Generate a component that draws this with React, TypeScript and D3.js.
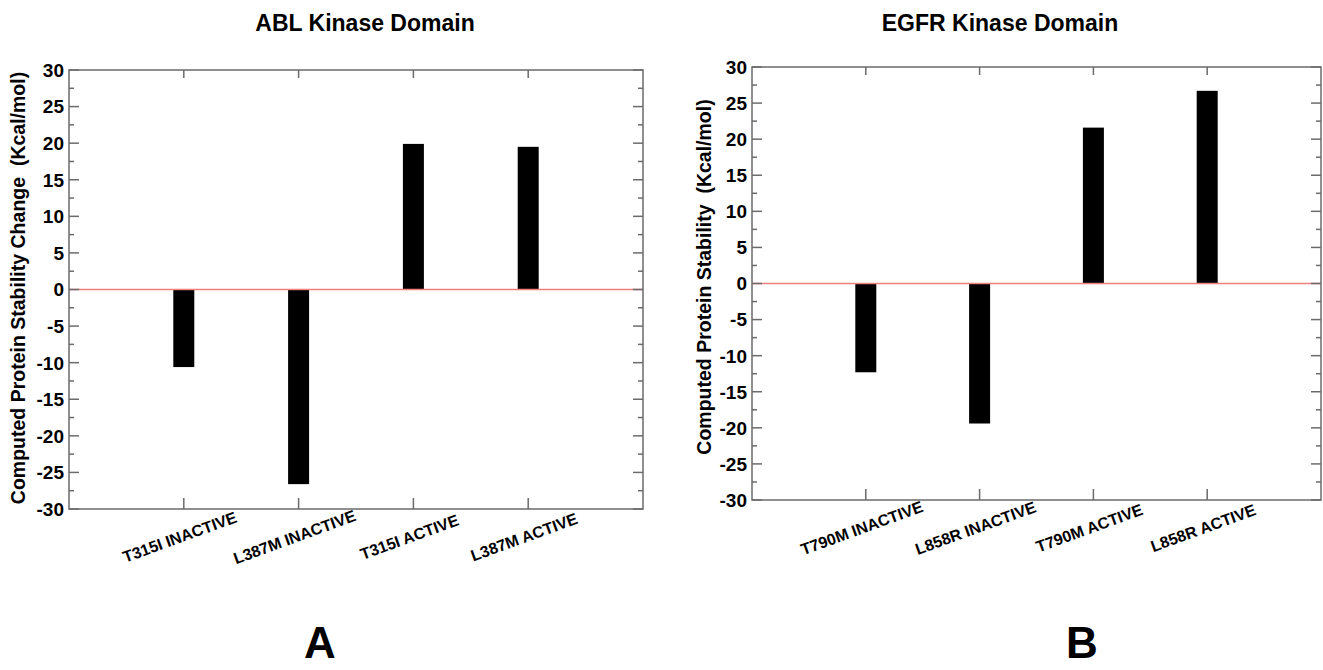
import React, { useEffect, useRef } from 'react';
import * as d3 from 'd3';

// ABL panel
const ablCategories = ['T315I INACTIVE', 'L387M INACTIVE', 'T315I ACTIVE', 'L387M ACTIVE'];
const ablValues = [-10.6, -26.6, 19.9, 19.5];

// EGFR panel
const egfrCategories = ['T790M INACTIVE', 'L858R INACTIVE', 'T790M ACTIVE', 'L858R ACTIVE'];
const egfrValues = [-12.3, -19.4, 21.6, 26.7];

const majorTicks = [-30, -25, -20, -15, -10, -5, 0, 5, 10, 15, 20, 25, 30];
const minorTicks = [-27.5, -22.5, -17.5, -12.5, -7.5, -2.5, 2.5, 7.5, 12.5, 17.5, 22.5, 27.5];

const FONT = 'Liberation Sans, Arial, sans-serif';
const AXIS = '#6b6b6b';

type Panel = {
  title: string;
  yTitle: string;
  letter: string;
  categories: string[];
  values: number[];
  box: { left: number; right: number; top: number; bottom: number };
  titleX: number;
  yTitleX: number;
  yTitleY: number;
  letterX: number;
};

const panels: Panel[] = [
  {
    title: 'ABL Kinase Domain',
    yTitle: 'Computed Protein Stability Change  (Kcal/mol)',
    letter: 'A',
    categories: ablCategories,
    values: ablValues,
    box: { left: 69, right: 643, top: 70, bottom: 509 },
    titleX: 365,
    yTitleX: 25,
    yTitleY: 288,
    letterX: 320,
  },
  {
    title: 'EGFR Kinase Domain',
    yTitle: 'Computed Protein Stability  (Kcal/mol)',
    letter: 'B',
    categories: egfrCategories,
    values: egfrValues,
    box: { left: 752, right: 1321, top: 67, bottom: 500 },
    titleX: 1000,
    yTitleX: 711,
    yTitleY: 277,
    letterX: 1082,
  },
];

const App = () => {
  const svgRef = useRef<SVGSVGElement>(null);

  useEffect(() => {
    const svg = d3.select(svgRef.current);
    svg.selectAll('*').remove();

    panels.forEach(p => {
      const { left, right, top, bottom } = p.box;
      const g = svg.append('g');

      const x = d3.scalePoint<string>()
        .domain(p.categories)
        .range([left, right])
        .padding(1);

      const y = d3.scaleLinear()
        .domain([-30, 30])
        .range([bottom, top]);

      // bars
      g.selectAll('.bar')
        .data(p.values)
        .enter()
        .append('rect')
        .attr('x', (d, i) => (x(p.categories[i]) as number) - 10.5)
        .attr('y', d => y(Math.max(0, d)))
        .attr('width', 21)
        .attr('height', d => Math.abs(y(d) - y(0)))
        .attr('fill', '#000');

      // zero line
      g.append('line')
        .attr('x1', left).attr('x2', right)
        .attr('y1', y(0)).attr('y2', y(0))
        .attr('stroke', '#f08080')
        .attr('stroke-width', 1.5);

      // frame
      g.append('rect')
        .attr('x', left).attr('y', top)
        .attr('width', right - left).attr('height', bottom - top)
        .attr('fill', 'none')
        .attr('stroke', AXIS)
        .attr('stroke-width', 1.5);

      // y ticks, left and right, pointing inward
      const ticks = g.append('g').attr('stroke', AXIS).attr('stroke-width', 1.5);
      majorTicks.forEach(t => {
        ticks.append('line').attr('x1', left).attr('x2', left + 10).attr('y1', y(t)).attr('y2', y(t));
        ticks.append('line').attr('x1', right).attr('x2', right - 10).attr('y1', y(t)).attr('y2', y(t));
      });
      minorTicks.forEach(t => {
        ticks.append('line').attr('x1', left).attr('x2', left + 5).attr('y1', y(t)).attr('y2', y(t));
        ticks.append('line').attr('x1', right).attr('x2', right - 5).attr('y1', y(t)).attr('y2', y(t));
      });
      // x ticks top and bottom
      p.categories.forEach(c => {
        const cx = x(c) as number;
        ticks.append('line').attr('x1', cx).attr('x2', cx).attr('y1', bottom).attr('y2', bottom - 11);
        ticks.append('line').attr('x1', cx).attr('x2', cx).attr('y1', top).attr('y2', top + 8);
      });

      // y tick labels
      g.selectAll('.ylab')
        .data(majorTicks)
        .enter()
        .append('text')
        .attr('x', left - 5)
        .attr('y', d => y(d))
        .attr('dy', '0.36em')
        .attr('text-anchor', 'end')
        .style('font-family', FONT)
        .style('font-size', '19px')
        .style('font-weight', 'bold')
        .text(d => String(d));

      // x category labels
      p.categories.forEach(c => {
        const cx = (x(c) as number) - 4;
        const cy = bottom + 28;
        g.append('text')
          .attr('transform', `translate(${cx},${cy}) rotate(-20)`)
          .attr('text-anchor', 'middle')
          .attr('dy', '0.35em')
          .style('font-family', FONT)
          .style('font-size', '16px')
          .style('font-weight', 'bold')
          .text(c);
      });

      // y axis title
      g.append('text')
        .attr('transform', `translate(${p.yTitleX},${p.yTitleY}) rotate(-90)`)
        .attr('text-anchor', 'middle')
        .style('font-family', FONT)
        .style('font-size', '19.5px')
        .style('font-weight', 'bold')
        .style('white-space', 'pre')
        .text(p.yTitle);

      // panel title
      g.append('text')
        .attr('x', p.titleX)
        .attr('y', 31)
        .attr('text-anchor', 'middle')
        .style('font-family', FONT)
        .style('font-size', '23px')
        .style('font-weight', 'bold')
        .text(p.title);

      // panel letter
      g.append('text')
        .attr('x', p.letterX)
        .attr('y', 658)
        .attr('text-anchor', 'middle')
        .style('font-family', FONT)
        .style('font-size', '44px')
        .style('font-weight', 'bold')
        .text(p.letter);
    });
  }, []);

  return (
    <svg
      ref={svgRef}
      width={1323}
      height={670}
      style={{ position: 'absolute', left: 0, top: 0, background: '#fff' }}
    />
  );
};

export default App;
